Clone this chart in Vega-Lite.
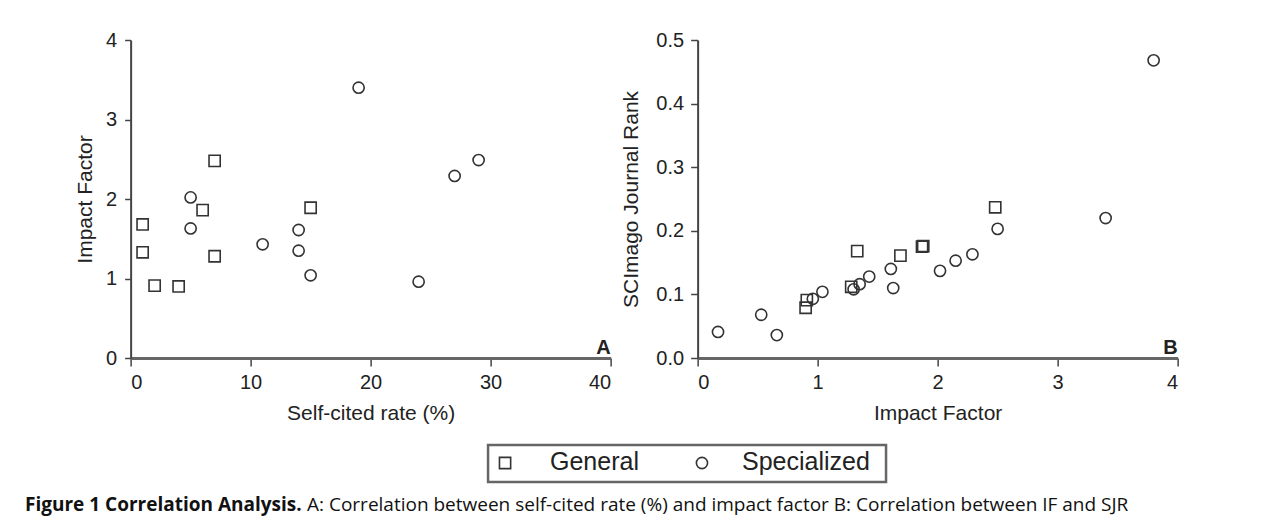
{
  "$schema": "https://vega.github.io/schema/vega-lite/v6.json",
  "background": "white",
  "padding": {"left": 25, "top": 30, "right": 0, "bottom": 0},
  "autosize": {"type": "pad"},
  "config": {
    "view": {"stroke": null},
    "font": "Liberation Sans",
    "axis": {
      "grid": false,
      "domainColor": "#444",
      "domainWidth": 2,
      "tickColor": "#444",
      "tickWidth": 1.5,
      "labelFont": "Liberation Sans",
      "labelFontSize": 20,
      "labelColor": "#222",
      "titleFont": "Liberation Sans",
      "titleFontSize": 21,
      "titleFontWeight": "normal",
      "titleColor": "#222"
    }
  },
  "center": true,
  "spacing": 20,
  "vconcat": [
    {
      "spacing": 9,
      "hconcat": [
        {
          "width": 480,
          "height": 318,
          "layer": [
            {
              "data": {"values": [
                {"group": "General", "rate": 1, "impact": 1.68},
                {"group": "General", "rate": 1, "impact": 1.33},
                {"group": "General", "rate": 2, "impact": 0.91},
                {"group": "General", "rate": 4, "impact": 0.90},
                {"group": "General", "rate": 6, "impact": 1.86},
                {"group": "General", "rate": 7, "impact": 2.48},
                {"group": "General", "rate": 7, "impact": 1.28},
                {"group": "General", "rate": 15, "impact": 1.89},
                {"group": "Specialized", "rate": 5, "impact": 2.02},
                {"group": "Specialized", "rate": 5, "impact": 1.63},
                {"group": "Specialized", "rate": 11, "impact": 1.43},
                {"group": "Specialized", "rate": 14, "impact": 1.61},
                {"group": "Specialized", "rate": 14, "impact": 1.35},
                {"group": "Specialized", "rate": 15, "impact": 1.04},
                {"group": "Specialized", "rate": 19, "impact": 3.40},
                {"group": "Specialized", "rate": 24, "impact": 0.96},
                {"group": "Specialized", "rate": 27, "impact": 2.29},
                {"group": "Specialized", "rate": 29, "impact": 2.49}
              ]},
              "mark": {"type": "point", "filled": false, "stroke": "#333", "strokeWidth": 1.6, "size": 125, "opacity": 1},
              "encoding": {
                "x": {"field": "rate", "type": "quantitative", "scale": {"domain": [0, 40], "nice": false},
                  "axis": {"title": "Self-cited rate (%)", "values": [0, 10, 20, 30, 40], "format": "d", "domainWidth": 3, "domainColor": "#666", "tickSize": 8, "labelPadding": 6, "titlePadding": 10}},
                "y": {"field": "impact", "type": "quantitative", "scale": {"domain": [0, 4], "nice": false},
                  "axis": {"title": "Impact Factor", "values": [0, 1, 2, 3, 4], "format": "d", "tickSize": 6, "labelPadding": 8, "titlePadding": 10}},
                "shape": {"field": "group", "type": "nominal", "scale": {"domain": ["General", "Specialized"], "range": ["square", "circle"]}, "legend": null}
              }
            },
            {
              "data": {"values": [{"tag": "A", "rate": 40, "impact": 0}]},
              "mark": {"type": "text", "fontWeight": "bold", "fontSize": 20, "align": "right", "baseline": "bottom", "color": "#222"},
              "encoding": {
                "x": {"field": "rate", "type": "quantitative"},
                "y": {"field": "impact", "type": "quantitative"},
                "text": {"field": "tag"}
              }
            }
          ]
        },
        {
          "width": 480,
          "height": 318,
          "layer": [
            {
              "data": {"values": [
                {"group": "General", "impact": 0.90, "sjr": 0.079},
                {"group": "General", "impact": 0.91, "sjr": 0.091},
                {"group": "General", "impact": 1.28, "sjr": 0.112},
                {"group": "General", "impact": 1.33, "sjr": 0.168},
                {"group": "General", "impact": 1.69, "sjr": 0.161},
                {"group": "General", "impact": 1.87, "sjr": 0.175},
                {"group": "General", "impact": 1.88, "sjr": 0.176},
                {"group": "General", "impact": 2.48, "sjr": 0.237},
                {"group": "Specialized", "impact": 0.17, "sjr": 0.041},
                {"group": "Specialized", "impact": 0.53, "sjr": 0.068},
                {"group": "Specialized", "impact": 0.66, "sjr": 0.036},
                {"group": "Specialized", "impact": 0.96, "sjr": 0.093},
                {"group": "Specialized", "impact": 1.04, "sjr": 0.104},
                {"group": "Specialized", "impact": 1.30, "sjr": 0.108},
                {"group": "Specialized", "impact": 1.35, "sjr": 0.116},
                {"group": "Specialized", "impact": 1.43, "sjr": 0.128},
                {"group": "Specialized", "impact": 1.61, "sjr": 0.140},
                {"group": "Specialized", "impact": 1.63, "sjr": 0.110},
                {"group": "Specialized", "impact": 2.02, "sjr": 0.137},
                {"group": "Specialized", "impact": 2.15, "sjr": 0.153},
                {"group": "Specialized", "impact": 2.29, "sjr": 0.163},
                {"group": "Specialized", "impact": 2.50, "sjr": 0.203},
                {"group": "Specialized", "impact": 3.40, "sjr": 0.220},
                {"group": "Specialized", "impact": 3.80, "sjr": 0.468}
              ]},
              "mark": {"type": "point", "filled": false, "stroke": "#333", "strokeWidth": 1.6, "size": 125, "opacity": 1},
              "encoding": {
                "x": {"field": "impact", "type": "quantitative", "scale": {"domain": [0, 4], "nice": false},
                  "axis": {"title": "Impact Factor", "values": [0, 1, 2, 3, 4], "format": "d", "domainWidth": 3, "domainColor": "#666", "tickSize": 8, "labelPadding": 6, "titlePadding": 10}},
                "y": {"field": "sjr", "type": "quantitative", "scale": {"domain": [0, 0.5], "nice": false},
                  "axis": {"title": "SCImago Journal Rank", "values": [0, 0.1, 0.2, 0.3, 0.4, 0.5], "format": ".1f", "tickSize": 7, "labelPadding": 7, "titlePadding": 14}},
                "shape": {"field": "group", "type": "nominal", "scale": {"domain": ["General", "Specialized"], "range": ["square", "circle"]}, "legend": null}
              }
            },
            {
              "data": {"values": [{"tag": "B", "impact": 4, "sjr": 0}]},
              "mark": {"type": "text", "fontWeight": "bold", "fontSize": 20, "align": "right", "baseline": "bottom", "color": "#222"},
              "encoding": {
                "x": {"field": "impact", "type": "quantitative"},
                "y": {"field": "sjr", "type": "quantitative"},
                "text": {"field": "tag"}
              }
            }
          ]
        }
      ]
    },
    {
      "width": 1259,
      "height": 72,
      "encoding": {
        "x": {"field": "x", "type": "quantitative", "scale": {"domain": [0, 100], "nice": false, "zero": false}, "axis": null},
        "y": {"field": "y", "type": "quantitative", "scale": {"domain": [0, 100], "nice": false, "reverse": true}, "axis": null}
      },
      "layer": [
        {
          "data": {"values": [{"x": 36.78, "x2": 68.39, "y": 0, "y2": 51.4}]},
          "mark": {"type": "rect", "fill": "white", "stroke": "#666", "strokeWidth": 2.5},
          "encoding": {"x2": {"field": "x2"}, "y2": {"field": "y2"}}
        },
        {
          "data": {"values": [
            {"group": "General", "x": 38.13, "y": 25},
            {"group": "Specialized", "x": 53.77, "y": 25}
          ]},
          "mark": {"type": "point", "filled": false, "stroke": "#333", "strokeWidth": 1.6, "size": 125, "opacity": 1},
          "encoding": {
            "shape": {"field": "group", "type": "nominal", "scale": {"domain": ["General", "Specialized"], "range": ["square", "circle"]}, "legend": null}
          }
        },
        {
          "data": {"values": [
            {"label": "General", "x": 41.7, "y": 24},
            {"label": "Specialized", "x": 56.95, "y": 24}
          ]},
          "mark": {"type": "text", "align": "left", "baseline": "middle", "fontSize": 25, "font": "Liberation Sans", "color": "#222"},
          "encoding": {"text": {"field": "label"}}
        },
        {
          "data": {"values": [{"label": "Figure 1 Correlation Analysis.", "x": 0, "y": 83}]},
          "mark": {"type": "text", "align": "left", "baseline": "middle", "fontSize": 19, "fontWeight": "bold", "font": "Open Sans", "color": "#111"},
          "encoding": {"text": {"field": "label"}}
        },
        {
          "data": {"values": [{"label": "A: Correlation between self-cited rate (%) and impact factor B: Correlation between IF and SJR", "x": 22.4, "y": 83}]},
          "mark": {"type": "text", "align": "left", "baseline": "middle", "fontSize": 19, "font": "Open Sans", "color": "#111"},
          "encoding": {"text": {"field": "label"}}
        }
      ]
    }
  ]
}
